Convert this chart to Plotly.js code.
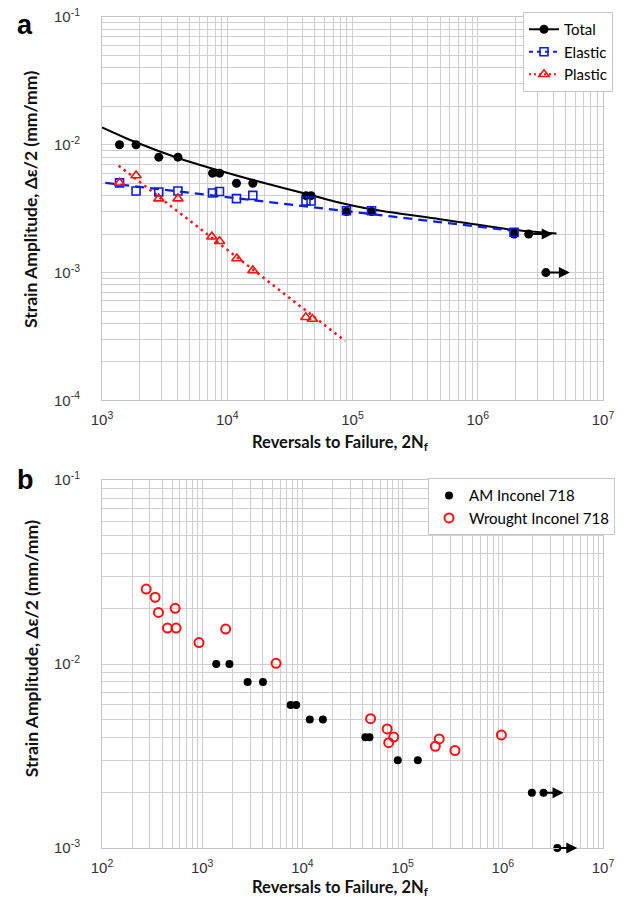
<!DOCTYPE html>
<html>
<head>
<meta charset="utf-8">
<script src="https://cdn.plot.ly/plotly-3.0.1.min.js"></script>
<style>html,body{margin:0;padding:0;background:#fff;}#chart{width:634px;height:913px;}</style>
</head>
<body>
<div id="chart"></div>
<script>
// ---------- data ----------
// AM Inconel 718 (Total strain) specimens
const amCycles = [1380, 1870, 2840, 4040, 7630, 8670, 11850, 16000, 42500, 46700, 89500, 142000, 1950000, 2550000, 3500000];
const amStrain = [0.010, 0.010, 0.008, 0.008, 0.006, 0.006, 0.005, 0.005, 0.004, 0.004, 0.003, 0.003, 0.002, 0.002, 0.001];
// elastic strain components
const elasticCycles = [1380, 1870, 2840, 4040, 7630, 8670, 11850, 16000, 42500, 46700, 89500, 142000, 1950000];
const elasticStrain = [0.00504, 0.00435, 0.00427, 0.00435, 0.00420, 0.00431, 0.00379, 0.00402, 0.00363, 0.00363, 0.00305, 0.00305, 0.00207];
// plastic strain components
const plasticCycles = [1380, 1870, 2840, 4040, 7530, 8680, 11930, 16000, 42400, 47800];
const plasticStrain = [0.00504, 0.00575, 0.00379, 0.00379, 0.00191, 0.00176, 0.00129, 0.00104, 0.000447, 0.000433];
// fitted curves
const totalFitCycles = [1000, 1866, 4036, 8610, 17180, 43200, 79400, 137000, 499000, 1980000, 4250000];
const totalFitStrain = [0.0137, 0.01046, 0.00789, 0.00629, 0.0052, 0.00412, 0.00352, 0.00315, 0.00262, 0.00215, 0.00202];
const elasticFitCycles = [1064, 1980000];
const elasticFitStrain = [0.00504, 0.00212];
const plasticFitCycles = [1357, 87300];
const plasticFitStrain = [0.00687, 0.000292];
// run-outs (arrows)
const runoutCycles = [2550000, 3500000];
const runoutStrain = [0.002, 0.001];
// Wrought Inconel 718
const wroughtCycles = [276, 339, 366, 537, 450, 549, 929, 1714, 5460, 47900, 70100, 81600, 72700, 232000, 212000, 333000, 968000];
const wroughtStrain = [0.0256, 0.0231, 0.0191, 0.0201, 0.0157, 0.0157, 0.0131, 0.0155, 0.0101, 0.00505, 0.00444, 0.00401, 0.00374, 0.00392, 0.00357, 0.00339, 0.00412];
// tick labels
const xTicksA = [1e3, 1e4, 1e5, 1e6, 1e7];
const xTickTextA = ['10<sup>3</sup>', '10<sup>4</sup>', '10<sup>5</sup>', '10<sup>6</sup>', '10<sup>7</sup>'];
const yTicksA = [1e-4, 1e-3, 1e-2, 1e-1];
const yTickTextA = ['10<sup>-4</sup>', '10<sup>-3</sup>', '10<sup>-2</sup>', '10<sup>-1</sup>'];
const xTicksB = [1e2, 1e3, 1e4, 1e5, 1e6, 1e7];
const xTickTextB = ['10<sup>2</sup>', '10<sup>3</sup>', '10<sup>4</sup>', '10<sup>5</sup>', '10<sup>6</sup>', '10<sup>7</sup>'];
const yTicksB = [1e-3, 1e-2, 1e-1];
const yTickTextB = ['10<sup>-3</sup>', '10<sup>-2</sup>', '10<sup>-1</sup>'];
const titleX = 'Reversals to Failure, 2N<sub>f</sub>';
const titleY = 'Strain Amplitude, Δε/2 (mm/mm)';

// ---------- layout helpers ----------
const W = 634, H = 913;
const M = {l: 102, r: 31, t: 12, b: 65};
const PW = W - M.l - M.r, PH = H - M.t - M.b;
const px = v => (v - M.l) / PW;
const py = v => (H - M.b - v) / PH;

const gridC = '#cfcfcf';
const tickFont = {family: 'Liberation Sans, Arial, sans-serif', size: 15, color: '#333'};
const titleFontY = {family: 'Lato, sans-serif', size: 17.5, color: '#111', weight: 'bold'};
const titleFontX = {family: 'Lato, sans-serif', size: 16.5, color: '#111', weight: 'bold'};
const blue = '#0a1fe0', red = '#ff1010';

function logAxis(range, tv, tt, extra) {
  return Object.assign({
    type: 'log', range: range, tickmode: 'array', tickvals: tv, ticktext: tt,
    showgrid: true, gridcolor: gridC, gridwidth: 1,
    minor: {dtick: 'D1', showgrid: true, gridcolor: gridC, gridwidth: 1, ticks: ''},
    showline: true, mirror: true, linecolor: '#c4c4c4', linewidth: 1,
    ticks: '', tickfont: tickFont, zeroline: false, fixedrange: true
  }, extra);
}

const traces = [
  // fitted lines (panel a)
  {x: totalFitCycles, y: totalFitStrain, mode: 'lines', line: {color: '#000', width: 2, shape: 'spline', smoothing: 0.8}, showlegend: false, xaxis: 'x', yaxis: 'y', hoverinfo: 'skip'},
  {x: elasticFitCycles, y: elasticFitStrain, mode: 'lines', line: {color: blue, width: 2.2, dash: '9px,6px'}, showlegend: false, xaxis: 'x', yaxis: 'y'},
  {x: plasticFitCycles, y: plasticFitStrain, mode: 'lines', line: {color: red, width: 2.5, dash: '2.5px,4px'}, showlegend: false, xaxis: 'x', yaxis: 'y'},
  // data points (panel a)
  {x: amCycles, y: amStrain, mode: 'markers', marker: {symbol: 'circle', size: 9, color: '#000'}, showlegend: false, xaxis: 'x', yaxis: 'y'},
  {x: elasticCycles, y: elasticStrain, mode: 'markers', marker: {symbol: 'square-open', size: 8, color: blue, line: {width: 1.6, color: blue}}, showlegend: false, xaxis: 'x', yaxis: 'y'},
  {x: plasticCycles, y: plasticStrain, mode: 'markers', marker: {symbol: 'triangle-up-open', size: 9, color: red, line: {width: 1.6, color: red}}, showlegend: false, xaxis: 'x', yaxis: 'y'},
  // legend entries (panel a)
  {x: [null], y: [null], name: 'Total', mode: 'lines+markers', line: {color: '#000', width: 2}, marker: {symbol: 'circle', size: 9, color: '#000'}, xaxis: 'x', yaxis: 'y', legend: 'legend'},
  {x: [null], y: [null], name: 'Elastic', mode: 'lines+markers', line: {color: blue, width: 2, dash: '4px,4px'}, marker: {symbol: 'square-open', size: 8, color: blue, line: {width: 1.6, color: blue}}, xaxis: 'x', yaxis: 'y', legend: 'legend'},
  {x: [null], y: [null], name: 'Plastic', mode: 'lines+markers', line: {color: red, width: 2, dash: '2px,3px'}, marker: {symbol: 'triangle-up-open', size: 9, color: red, line: {width: 1.6, color: red}}, xaxis: 'x', yaxis: 'y', legend: 'legend'},
  // panel b
  {x: amCycles, y: amStrain, name: 'AM Inconel 718', mode: 'markers', cliponaxis: false, marker: {symbol: 'circle', size: 8, color: '#000'}, xaxis: 'x2', yaxis: 'y2', legend: 'legend2'},
  {x: wroughtCycles, y: wroughtStrain, name: 'Wrought Inconel 718', mode: 'markers', cliponaxis: false, marker: {symbol: 'circle-open', size: 9, color: red, line: {width: 2, color: red}}, xaxis: 'x2', yaxis: 'y2', legend: 'legend2'}
];

const C = {xanchor: 'center', yanchor: 'middle', showarrow: false, xref: 'paper', yref: 'paper'};
const annotations = [
  Object.assign({text: '<b>a</b>', x: px(25), y: py(20), font: {family: 'Liberation Sans, Arial', size: 27, color: '#000'}}, C),
  Object.assign({text: '<b>b</b>', x: px(25), y: py(478), font: {family: 'Liberation Sans, Arial', size: 27, color: '#000'}}, C),
  Object.assign({text: titleY, x: px(31), y: py(196), textangle: -90, font: titleFontY}, C),
  Object.assign({text: titleY, x: px(31), y: py(648), textangle: -90, font: titleFontY}, C),
  Object.assign({text: titleX, x: px(340), y: py(440), font: titleFontX}, C),
  Object.assign({text: titleX, x: px(340), y: py(888), font: titleFontX}, C)
];
// run-out arrows, placed at the run-out data points
function addArrows(xr, yr, len) {
  runoutCycles.forEach((c, i) => {
    annotations.push({xref: xr, yref: yr, x: Math.log10(c), y: Math.log10(runoutStrain[i]), text: '',
      showarrow: true, ax: -len, ay: 0, xshift: len, arrowhead: 2, arrowsize: 1.1, arrowwidth: 2, arrowcolor: '#000', standoff: 0, startstandoff: 0});
  });
}
addArrows('x', 'y', 24);
addArrows('x2', 'y2', 20);

const layout = {
  width: W, height: H, margin: M, paper_bgcolor: '#fff', plot_bgcolor: '#fff',
  font: {family: 'Lato, sans-serif', color: '#000'},
  xaxis: logAxis([3, 7], xTicksA, xTickTextA, {anchor: 'y', domain: [0, 1], ticklabelstandoff: 6}),
  yaxis: logAxis([-4, -1], yTicksA, yTickTextA, {anchor: 'x', domain: [py(397.7), 1], ticklabelstandoff: 18}),
  xaxis2: logAxis([2, 7], xTicksB, xTickTextB, {anchor: 'y2', domain: [0, 1], ticklabelstandoff: 6}),
  yaxis2: logAxis([-3, -1], yTicksB, yTickTextB, {anchor: 'x2', domain: [0, py(478)], ticklabelstandoff: 18}),
  legend: {x: px(613), y: py(7), xanchor: 'right', yanchor: 'top', bgcolor: '#fff', bordercolor: '#c8c8c8', borderwidth: 1,
    font: {family: 'Lato, sans-serif', size: 15, color: '#000'}, itemwidth: 30, tracegroupgap: 0},
  legend2: {x: px(428), y: py(476), xanchor: 'left', yanchor: 'top', bgcolor: '#fff', bordercolor: '#c8c8c8', borderwidth: 1,
    font: {family: 'Lato, sans-serif', size: 15, color: '#000'}, itemwidth: 30},
  annotations: annotations,
  showlegend: true
};

Plotly.newPlot('chart', traces, layout, {displayModeBar: false, staticPlot: true});
</script>
</body>
</html>
